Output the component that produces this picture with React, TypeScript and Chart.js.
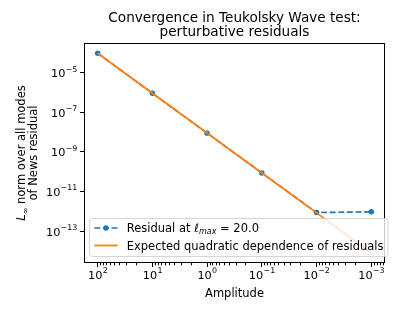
import React, { useEffect, useRef } from 'react';
import { Chart, registerables } from 'chart.js';

Chart.register(...registerables);

// ---- data ----
const amplitudes = [100, 10, 1, 0.1, 0.01, 0.001];
const residuals = [1.0e-4, 9.4e-7, 9.0e-9, 8.7e-11, 8.6e-13, 9.4e-13];
const expected = [1.0e-4, 9.5e-7, 9.1e-9, 8.7e-11, 8.3e-13, 7.9e-15];
const seriesLabels = ['Residual at ℓmax = 20.0', 'Expected quadratic dependence of residuals'];
const xTickExps = [2, 1, 0, -1, -2, -3];
const yTickExps = [-5, -7, -9, -11, -13];
const titleLines = ['Convergence in Teukolsky Wave test:', 'perturbative residuals'];
const xLabel = 'Amplitude';
const yLabelLines = ['L∞ norm over all modes', 'of News residual'];

const FONT = "'DejaVu Sans', sans-serif";
const LABEL_SIZE = 11.5;
const TICK_SIZE = 11.3;
const TITLE_SIZE = 13.6;
const BLUE = '#1f77b4';
const ORANGE = '#ff7f0e';

type Seg = { t: string; italic?: boolean; sub?: boolean };

function toRich(text: string): Seg[] {
  if (text.includes('ℓmax')) {
    const [a, b] = text.split('ℓmax');
    return [{ t: a }, { t: 'ℓ', italic: true }, { t: 'max', italic: true, sub: true }, { t: b }];
  }
  if (text.startsWith('L∞')) {
    return [{ t: 'L', italic: true }, { t: '∞', sub: true }, { t: text.slice(2) }];
  }
  return [{ t: text }];
}

function segFont(s: Seg, size: number) {
  const sz = s.sub ? size * 0.7 : size;
  return `${s.italic ? 'italic ' : ''}${sz}px ${FONT}`;
}

function richWidth(ctx: CanvasRenderingContext2D, segs: Seg[], size: number) {
  let w = 0;
  for (const s of segs) {
    ctx.font = segFont(s, size);
    w += ctx.measureText(s.t).width;
  }
  return w;
}

function drawRich(ctx: CanvasRenderingContext2D, segs: Seg[], x: number, y: number, size: number) {
  let cx = x;
  ctx.textAlign = 'left';
  ctx.textBaseline = 'alphabetic';
  for (const s of segs) {
    ctx.font = segFont(s, size);
    ctx.fillText(s.t, cx, y + (s.sub ? size * 0.2 : 0));
    cx += ctx.measureText(s.t).width;
  }
}

// "10^e" tick label, mathtext-like
function powParts(v: number) {
  const e = Math.round(Math.log10(v));
  return { base: '10', exp: String(e).replace('-', '\u2212') };
}
function powWidth(ctx: CanvasRenderingContext2D, v: number) {
  const p = powParts(v);
  ctx.font = `${TICK_SIZE}px ${FONT}`;
  const w1 = ctx.measureText(p.base).width;
  ctx.font = `${TICK_SIZE * 0.7}px ${FONT}`;
  return w1 + ctx.measureText(p.exp).width;
}
function drawPow(ctx: CanvasRenderingContext2D, v: number, x: number, baseline: number) {
  const p = powParts(v);
  ctx.textAlign = 'left';
  ctx.textBaseline = 'alphabetic';
  ctx.font = `${TICK_SIZE}px ${FONT}`;
  ctx.fillText(p.base, x, baseline);
  const w1 = ctx.measureText(p.base).width;
  ctx.font = `${TICK_SIZE * 0.7}px ${FONT}`;
  ctx.fillText(p.exp, x + w1 + 0.3, baseline - 5.6);
}

const decorPlugin = {
  id: 'decor',
  afterDraw(chart: any) {
    const ctx: CanvasRenderingContext2D = chart.ctx;
    const ca = chart.chartArea;
    const xs = chart.scales.x;
    const ys = chart.scales.y;
    ctx.save();

    // spines
    ctx.strokeStyle = '#000';
    ctx.lineWidth = 1;
    ctx.setLineDash([]);
    ctx.strokeRect(ca.left + 0.5, ca.top + 0.5, ca.right - ca.left - 1, ca.bottom - ca.top - 1);

    // minor x ticks
    for (let e = -5; e <= 3; e++) {
      for (let k = 2; k <= 9; k++) {
        const v = k * Math.pow(10, e);
        if (v < xs.min || v > xs.max) continue;
        const px = Math.round(xs.getPixelForValue(v)) + 0.5;
        ctx.beginPath();
        ctx.moveTo(px, ca.bottom);
        ctx.lineTo(px, ca.bottom + 2.3);
        ctx.stroke();
      }
    }

    // tick labels
    ctx.fillStyle = '#000';
    for (const t of xs.ticks) {
      const px = xs.getPixelForValue(t.value);
      const w = powWidth(ctx, t.value);
      drawPow(ctx, t.value, px - w / 2, ca.bottom + 16);
    }
    for (const t of ys.ticks) {
      const py = ys.getPixelForValue(t.value);
      const w = powWidth(ctx, t.value);
      drawPow(ctx, t.value, ca.left - 7 - w, py + 4.5);
    }

    // title
    ctx.textAlign = 'center';
    ctx.textBaseline = 'alphabetic';
    ctx.font = `${TITLE_SIZE}px ${FONT}`;
    const cx = (ca.left + ca.right) / 2;
    ctx.fillText(titleLines[0], cx, 21.7);
    ctx.fillText(titleLines[1], cx, 35.5);

    // x label
    ctx.font = `${LABEL_SIZE}px ${FONT}`;
    ctx.fillText(xLabel, cx, 296.5);

    // y label
    const cy = (ca.top + ca.bottom) / 2;
    const baselines = [25.2, 36.8];
    yLabelLines.forEach((line, i) => {
      const segs = toRich(line);
      const w = richWidth(ctx, segs, LABEL_SIZE);
      ctx.save();
      ctx.translate(baselines[i], cy);
      ctx.rotate(-Math.PI / 2);
      drawRich(ctx, segs, -w / 2, 0, LABEL_SIZE);
      ctx.restore();
    });

    // legend
    const lx = 89.5, ly = 218.5, lw = 298.5, lh = 38;
    ctx.beginPath();
    (ctx as any).roundRect(lx, ly, lw, lh, 3);
    ctx.fillStyle = 'rgba(255,255,255,0.8)';
    ctx.fill();
    ctx.strokeStyle = 'rgba(204,204,204,0.8)';
    ctx.lineWidth = 1;
    ctx.stroke();

    const rows = [228, 245.5];
    chart.data.datasets.forEach((ds: any, i: number) => {
      const y = rows[i];
      ctx.strokeStyle = ds.borderColor;
      ctx.lineWidth = ds.borderWidth;
      ctx.setLineDash(ds.borderDash || []);
      ctx.beginPath();
      ctx.moveTo(94.3, y);
      ctx.lineTo(117.7, y);
      ctx.stroke();
      ctx.setLineDash([]);
      if (ds.pointRadius > 0) {
        ctx.fillStyle = ds.pointBackgroundColor;
        ctx.beginPath();
        ctx.arc(106, y, ds.pointRadius, 0, Math.PI * 2);
        ctx.fill();
      }
      ctx.fillStyle = '#000';
      drawRich(ctx, toRich(ds.label), 126.7, y + 4, LABEL_SIZE);
    });

    ctx.restore();
  },
};

export default function App() {
  const ref = useRef<HTMLCanvasElement | null>(null);

  useEffect(() => {
    if (!ref.current) return;
    const tickFont = { family: FONT, size: TICK_SIZE };
    const gridOpts = {
      display: true,
      drawOnChartArea: false,
      drawTicks: true,
      tickLength: 4,
      tickColor: '#000',
      tickWidth: 1,
      color: '#000',
    };
    const chart = new Chart(ref.current, {
      type: 'line',
      data: {
        datasets: [
          {
            label: seriesLabels[0],
            data: amplitudes.map((a, i) => ({ x: a, y: residuals[i] })),
            borderColor: BLUE,
            backgroundColor: BLUE,
            borderWidth: 1.7,
            borderDash: [6, 2.6],
            pointRadius: 2.7,
            pointBackgroundColor: BLUE,
            pointBorderWidth: 0,
            fill: false,
            tension: 0,
            order: 2,
          },
          {
            label: seriesLabels[1],
            data: amplitudes.map((a, i) => ({ x: a, y: expected[i] })),
            borderColor: ORANGE,
            backgroundColor: ORANGE,
            borderWidth: 1.8,
            pointRadius: 0,
            fill: false,
            tension: 0,
            order: 1,
          },
        ] as any,
      },
      options: {
        animation: false,
        responsive: false,
        devicePixelRatio: 1,
        layout: { padding: { left: 0, right: 13, top: 43, bottom: 22 } },
        plugins: {
          legend: { display: false },
          title: { display: false },
          tooltip: { enabled: false },
        },
        scales: {
          x: {
            type: 'logarithmic',
            reverse: true,
            min: 5.62e-4,
            max: 177.8,
            afterBuildTicks: (s: any) => {
              s.ticks = xTickExps.map((e) => ({ value: Math.pow(10, e) }));
            },
            afterFit: (s: any) => {
              s.height = 30;
            },
            ticks: {
              callback: () => '',
              font: tickFont,
              padding: 2,
              maxRotation: 0,
              autoSkip: false,
            },
            grid: gridOpts,
            border: { display: false },
          },
          y: {
            type: 'logarithmic',
            min: 2.4e-15,
            max: 3.3e-4,
            afterBuildTicks: (s: any) => {
              s.ticks = yTickExps.map((e) => ({ value: Math.pow(10, e) }));
            },
            afterFit: (s: any) => {
              s.width = 84;
            },
            ticks: {
              callback: () => '',
              font: tickFont,
              padding: 3,
              autoSkip: false,
            },
            grid: gridOpts,
            border: { display: false },
          },
        },
      } as any,
      plugins: [decorPlugin],
    });
    return () => chart.destroy();
  }, []);

  return (
    <div style={{ position: 'fixed', left: 0, top: 0, width: 398, height: 315, background: '#fff' }}>
      <canvas ref={ref} width={398} height={315} style={{ display: 'block' }} />
    </div>
  );
}
